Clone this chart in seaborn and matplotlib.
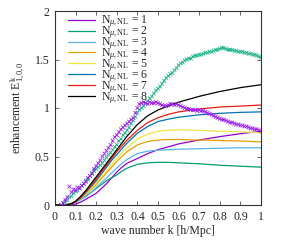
"""
Enhancement E^k_{1,0,0} vs wave number for several N_mu,NL
"""

# Dependencies
import numpy as np
import pandas as pd
import seaborn as sns
import matplotlib
matplotlib.use('Agg')
import matplotlib.pyplot as plt

# Model curves
k_line = [0, 0.05, 0.075, 0.1, 0.125, 0.15, 0.175, 0.2, 0.225, 0.25, 0.275, 0.3,
          0.325, 0.35, 0.4, 0.45, 0.5, 0.55, 0.6, 0.7, 0.8, 0.9, 1.0]
e_n1 = [0, 0, 0, 0.01, 0.03, 0.06, 0.09, 0.12, 0.17, 0.22, 0.28, 0.34,
        0.39, 0.43, 0.48, 0.53, 0.57, 0.60, 0.63, 0.67, 0.705, 0.735, 0.76]
e_n2 = [0, 0, 0.01, 0.03, 0.06, 0.09, 0.13, 0.17, 0.21, 0.25, 0.28, 0.31,
        0.35, 0.38, 0.42, 0.435, 0.44, 0.44, 0.435, 0.425, 0.41, 0.40, 0.39]
e_n3 = [0, 0, 0.01, 0.025, 0.055, 0.09, 0.13, 0.18, 0.23, 0.28, 0.33, 0.38,
        0.43, 0.47, 0.53, 0.555, 0.565, 0.57, 0.575, 0.58, 0.585, 0.59, 0.59]
e_n4 = [0, 0, 0.01, 0.03, 0.065, 0.11, 0.16, 0.21, 0.27, 0.33, 0.39, 0.45,
        0.50, 0.55, 0.62, 0.655, 0.67, 0.675, 0.675, 0.67, 0.665, 0.66, 0.65]
e_n5 = [0, 0, 0.01, 0.03, 0.07, 0.12, 0.17, 0.23, 0.29, 0.35, 0.42, 0.48,
        0.54, 0.59, 0.68, 0.73, 0.76, 0.77, 0.775, 0.77, 0.76, 0.755, 0.745]
e_n6 = [0, 0, 0.01, 0.03, 0.075, 0.13, 0.19, 0.25, 0.32, 0.39, 0.46, 0.52,
        0.58, 0.64, 0.74, 0.81, 0.86, 0.885, 0.905, 0.93, 0.945, 0.955, 0.96]
e_n7 = [0, 0, 0.01, 0.035, 0.08, 0.14, 0.20, 0.27, 0.34, 0.41, 0.48, 0.55,
        0.61, 0.67, 0.77, 0.85, 0.90, 0.935, 0.96, 0.99, 1.01, 1.02, 1.03]
e_n8 = [0, 0, 0.01, 0.04, 0.09, 0.15, 0.22, 0.29, 0.36, 0.43, 0.50, 0.57,
        0.64, 0.71, 0.83, 0.92, 0.98, 1.02, 1.06, 1.12, 1.17, 1.21, 1.24]
n_values = [1, 2, 3, 4, 5, 6, 7, 8]

# Measured points (x markers), k = 0.03 ... 1.00
k_pts = np.round(np.arange(0.03, 1.0001, 0.01), 2)
pts_green = [0.00, 0.02, 0.03, 0.05, 0.08, 0.09, 0.12, 0.14, 0.15, 0.18,
             0.20, 0.22, 0.25, 0.26, 0.30, 0.32, 0.35, 0.37, 0.39, 0.41,
             0.43, 0.46, 0.49, 0.52, 0.54, 0.57, 0.60, 0.62, 0.66, 0.68,
             0.72, 0.74, 0.77, 0.80, 0.84, 0.87, 0.91, 0.95, 0.98, 1.00,
             1.02, 1.05, 1.07, 1.10, 1.12, 1.15, 1.18, 1.20, 1.22, 1.25,
             1.28, 1.31, 1.33, 1.35, 1.36, 1.39, 1.41, 1.44, 1.46, 1.47,
             1.49, 1.50, 1.51, 1.51, 1.53, 1.54, 1.54, 1.55, 1.55, 1.56,
             1.57, 1.57, 1.58, 1.58, 1.59, 1.60, 1.60, 1.61, 1.62, 1.62,
             1.61, 1.60, 1.60, 1.60, 1.59, 1.59, 1.58, 1.58, 1.58, 1.57,
             1.57, 1.56, 1.56, 1.55, 1.55, 1.54, 1.53, 1.52]
pts_purple = [0.00, 0.02, 0.05, 0.08, 0.19, 0.13, 0.16, 0.15, 0.18, 0.17,
              0.20, 0.22, 0.24, 0.28, 0.30, 0.33, 0.37, 0.40, 0.43, 0.46,
              0.50, 0.53, 0.56, 0.59, 0.62, 0.66, 0.70, 0.72, 0.75, 0.78,
              0.80, 0.82, 0.84, 0.86, 0.88, 0.90, 0.95, 1.00, 1.04, 1.05,
              1.06, 1.05, 1.04, 1.06, 1.05, 1.05, 1.06, 1.05, 1.04, 1.03,
              1.02, 1.02, 1.03, 1.04, 1.04, 1.03, 1.04, 1.03, 1.02, 1.01,
              1.00, 0.99, 0.99, 0.98, 0.98, 0.98, 0.97, 0.98, 0.97, 0.97,
              0.96, 0.95, 0.94, 0.93, 0.92, 0.91, 0.90, 0.89, 0.88, 0.88,
              0.87, 0.86, 0.85, 0.85, 0.84, 0.83, 0.83, 0.82, 0.82, 0.81,
              0.81, 0.80, 0.79, 0.79, 0.78, 0.78, 0.77, 0.76]

# gnuplot default colours
colors = ['#9400d3', '#009e73', '#56b4e9', '#e69f00',
          '#f0e442', '#0072b2', '#e51e10', '#000000']

# Build long-form tables
curves = [e_n1, e_n2, e_n3, e_n4, e_n5, e_n6, e_n7, e_n8]
lines = pd.concat([
    pd.DataFrame({'k': k_line, 'E': c,
                  'N': r'N$_{\mu,\mathrm{NL}}$ = %d' % n})
    for n, c in zip(n_values, curves)], ignore_index=True)
pts = pd.DataFrame({'k': np.concatenate([k_pts, k_pts]),
                    'E': pts_green + pts_purple,
                    'set': ['green'] * len(k_pts) + ['purple'] * len(k_pts)})

# Style
sns.set_style('ticks')
plt.rcParams['font.family'] = ['Liberation Serif', 'DejaVu Serif']
plt.rcParams['mathtext.fontset'] = 'custom'
plt.rcParams['mathtext.rm'] = 'Liberation Serif'
plt.rcParams['mathtext.it'] = 'Liberation Serif:italic'
plt.rcParams['font.size'] = 8

fig = plt.figure(figsize=(2.81, 2.41), dpi=100)
ax = fig.add_axes([55 / 281, 36 / 241, 206 / 281, 194 / 241])

sns.lineplot(data=lines, x='k', y='E', hue='N', palette=colors,
             linewidth=0.9, ax=ax, zorder=2)
handles, labels = ax.get_legend_handles_labels()

sns.scatterplot(data=pts, x='k', y='E', hue='set',
                palette={'green': '#1fb58a', 'purple': '#a020f0'},
                marker='x', s=7, linewidth=0.6,
                legend=False, ax=ax, zorder=3)

ax.set_xlim(0, 1)
ax.set_ylim(0, 2)
ax.set_xticks(np.arange(0, 1.01, 0.1))
ax.set_xticklabels(['0', '0.1', '0.2', '0.3', '0.4', '0.5', '0.6', '0.7', '0.8', '0.9', '1'])
ax.set_yticks([0, 0.5, 1, 1.5, 2])
ax.set_yticklabels(['0', '0.5', '1', '1.5', '2'])
ax.tick_params(direction='in', top=True, right=True, length=3, width=0.5,
               labelsize=8.5, pad=4)
for s in ax.spines.values():
    s.set_linewidth(0.8)
    s.set_color('#333333')

ax.set_xlabel('wave number k [h/Mpc]', fontsize=8.5, labelpad=2)
ax.set_ylabel(r'enhancement E$^{\mathrm{k}}_{1,0,0}$', fontsize=8.5, labelpad=6)

ax.legend(handles, labels, loc='upper left', frameon=False, fontsize=8.5,
          handlelength=2.3, handletextpad=0.5, labelspacing=-0.4,
          borderaxespad=0.0, bbox_to_anchor=(0.04, 1.01))

plt.savefig('out.png', dpi=100)
plt.close()
